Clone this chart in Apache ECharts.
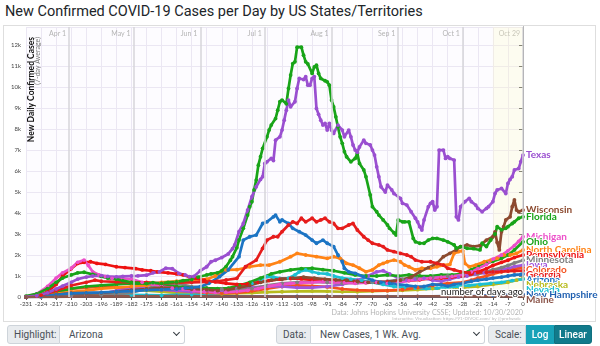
<!DOCTYPE html>
<html>
<head>
<meta charset="utf-8">
<title>New Confirmed COVID-19 Cases per Day by US States/Territories</title>
<script src="https://cdn.jsdelivr.net/npm/echarts/dist/echarts.min.js"></script>
<style>
  html, body { margin: 0; padding: 0; background: #fff; }
  body { width: 600px; height: 346px; position: relative; overflow: hidden; font-family: Roboto, "Noto Sans", sans-serif; }
  #title { position: absolute; left: 5px; top: 3px; font-size: 14.5px; color: #212529; white-space: nowrap; }
  #frame { position: absolute; left: 3px; top: 25px; width: 591px; height: 295px; border: 1px solid #dedede; }
  #chart { position: absolute; left: 0; top: 0; width: 600px; height: 346px; }
  .box { position: absolute; top: 325px; height: 19px; box-sizing: border-box; font-size: 10px; line-height: 17px; color: #495057; white-space: nowrap; }
  .addon { background: #e9ecef; border: 1px solid #ced4da; border-radius: 3px 0 0 3px; padding-left: 6px; }
  .sel { background: #fff; border: 1px solid #ced4da; border-left: none; border-radius: 0 3px 3px 0; padding-left: 9px; }
  .chev { position: absolute; right: 5px; top: 4px; width: 4px; height: 4px; border-right: 1.5px solid #343a40; border-bottom: 1.5px solid #343a40; transform: rotate(45deg); }
  .btn { color: #fff; text-align: center; font-weight: 500; }
</style>
</head>
<body>
<div id="title">New Confirmed COVID-19 Cases per Day by US States/Territories</div>
<div id="frame"></div>
<div id="chart"></div>

<div class="box addon" style="left:7px;width:53px;">Highlight:</div>
<div class="box sel" style="left:60px;width:125px;">Arizona<span class="chev"></span></div>

<div class="box addon" style="left:276px;width:35px;">Data:</div>
<div class="box sel" style="left:311px;width:174px;">New Cases, 1 Wk. Avg.<span class="chev"></span></div>

<div class="box addon" style="left:488px;width:38px;">Scale:</div>
<div class="box btn" style="left:526px;width:28px;background:#17a2b8;border:1px solid #17a2b8;">Log</div>
<div class="box btn" style="left:554px;width:38px;background:#117a8b;border:1px solid #10707f;border-radius:0 3px 3px 0;">Linear</div>

<script>
// New cases per day, 7-day average; x = days before Oct 29, 2020
const texas = [[-231,20],[-226,60],[-221,200],[-217,380],[-214,520],[-210,700],[-207,850],[-203,950],[-200,1000],[-196,1020],[-193,980],[-189,960],[-186,980],[-182,1000],[-179,1010],[-175,1040],[-172,1150],[-169,1200],[-166,1370],[-163,1350],[-160,1130],[-157,1050],[-155,970],[-153,980],[-150,1250],[-147,1440],[-145,1680],[-143,1750],[-140,1880],[-137,2050],[-135,2300],[-134,2480],[-132,3110],[-130,3500],[-128,4140],[-126,4780],[-124,5250],[-122,5600],[-121,5730],[-120,6360],[-119,6440],[-117,6600],[-116,6500],[-115,7470],[-113,7630],[-112,7950],[-111,8420],[-110,8900],[-109,9380],[-108,9060],[-106,9300],[-105,9930],[-104,10410],[-102,10360],[-101,10490],[-100,10090],[-99,10090],[-98,10410],[-97,10500],[-96,8980],[-95,8700],[-94,8420],[-93,8190],[-92,8270],[-91,7950],[-90,8270],[-89,7950],[-88,7790],[-86,8190],[-84,7950],[-83,7630],[-81,7950],[-80,7630],[-79,7240],[-78,7000],[-77,6900],[-76,7150],[-74,7470],[-73,7320],[-71,7240],[-70,7000],[-69,6760],[-68,6200],[-67,5730],[-66,5250],[-64,5000],[-63,5330],[-61,5100],[-60,4930],[-57,4700],[-56,4460],[-54,4380],[-52,4060],[-50,3750],[-49,3580],[-48,3350],[-47,3190],[-46,3670],[-44,4300],[-43,4460],[-42,4540],[-41,4140],[-40,4300],[-39,7000],[-37,7000],[-36,6600],[-35,6680],[-34,6600],[-32,6520],[-31,3820],[-30,3670],[-29,4300],[-27,4540],[-25,4700],[-24,4540],[-22,4380],[-21,4220],[-19,4060],[-17,4220],[-16,4300],[-14,4540],[-13,4930],[-12,5100],[-10,5170],[-8,4930],[-7,5410],[-6,5600],[-5,5730],[-4,6050],[-2,6120],[-1,6450],[0,6760]];

const florida = [[-231,40],[-226,150],[-221,400],[-217,700],[-214,900],[-210,1050],[-207,1150],[-204,1180],[-200,1080],[-196,980],[-193,900],[-189,850],[-186,780],[-182,700],[-179,660],[-175,640],[-172,680],[-168,650],[-165,700],[-161,720],[-158,780],[-154,830],[-151,950],[-147,1050],[-145,1100],[-142,1150],[-140,1250],[-138,1450],[-136,1750],[-135,1920],[-133,2350],[-132,2710],[-130,3270],[-128,3900],[-127,4300],[-126,4540],[-125,5100],[-124,5570],[-123,6280],[-122,6680],[-121,7080],[-119,7630],[-118,7950],[-117,8190],[-115,8500],[-114,8900],[-113,9300],[-112,9380],[-110,9200],[-109,9930],[-108,10570],[-107,11120],[-106,11200],[-105,11900],[-103,11900],[-102,11520],[-101,11200],[-100,11100],[-98,10650],[-97,10960],[-96,11040],[-95,10650],[-94,10410],[-92,10300],[-91,10250],[-90,10090],[-89,9380],[-88,9060],[-87,8580],[-86,8100],[-85,7630],[-84,7320],[-83,6920],[-82,6680],[-80,6440],[-78,6600],[-77,6840],[-76,6360],[-74,6050],[-73,5730],[-71,4860],[-70,4300],[-68,4060],[-67,3900],[-65,3670],[-63,3430],[-62,3270],[-60,3060],[-59,2950],[-58,3670],[-56,3580],[-55,3580],[-53,3580],[-51,2790],[-50,2630],[-48,2560],[-46,2560],[-44,2710],[-42,2790],[-40,2790],[-37,2710],[-35,2630],[-32,2480],[-31,2320],[-29,2400],[-26,2320],[-23,2300],[-20,2240],[-19,2560],[-17,2400],[-15,2710],[-13,3000],[-12,3350],[-10,3200],[-8,3270],[-7,3350],[-5,3500],[-4,3580],[-2,3750],[0,3820]];

const wisconsin = [[-231,2],[-224,40],[-217,120],[-210,180],[-203,170],[-196,200],[-189,250],[-182,330],[-175,380],[-168,450],[-161,420],[-154,380],[-147,350],[-142,300],[-137,350],[-132,450],[-127,550],[-122,700],[-117,800],[-112,850],[-107,900],[-102,950],[-97,900],[-92,850],[-87,820],[-82,800],[-77,750],[-72,700],[-67,680],[-62,720],[-57,800],[-52,950],[-48,1200],[-44,1400],[-40,1600],[-37,1920],[-34,2080],[-31,2240],[-29,2400],[-26,2480],[-23,2400],[-20,2450],[-17,2710],[-14,2870],[-13,3100],[-12,2600],[-11,2240],[-10,3110],[-9,3350],[-8,3670],[-6,3820],[-5,4300],[-4,4620],[-3,4140],[-2,4060],[0,4140]];

const michigan = [[-231,10],[-226,150],[-221,500],[-217,900],[-214,1150],[-210,1370],[-207,1650],[-204,1760],[-202,1500],[-200,1200],[-197,1050],[-194,970],[-191,890],[-186,880],[-182,850],[-177,700],[-172,600],[-168,500],[-163,420],[-158,380],[-153,300],[-148,250],[-143,220],[-138,230],[-133,260],[-128,320],[-123,400],[-118,520],[-113,600],[-108,650],[-103,680],[-98,700],[-93,730],[-88,700],[-83,680],[-78,650],[-73,680],[-68,700],[-63,650],[-58,680],[-53,780],[-48,850],[-43,900],[-38,950],[-33,980],[-28,1050],[-24,1200],[-21,1350],[-17,1550],[-14,1800],[-10,2000],[-7,2200],[-4,2450],[-2,2650],[0,2870]];

const ohio = [[-231,5],[-224,60],[-217,200],[-210,400],[-203,500],[-196,550],[-189,600],[-182,650],[-175,600],[-168,550],[-161,500],[-154,450],[-147,420],[-142,400],[-137,420],[-132,550],[-127,700],[-122,900],[-117,1100],[-113,1200],[-108,1290],[-103,1350],[-98,1370],[-93,1300],[-88,1250],[-83,1150],[-78,1050],[-73,1000],[-68,1000],[-63,1050],[-58,1000],[-53,1050],[-48,1000],[-43,1000],[-38,1050],[-33,1050],[-28,1100],[-24,1300],[-21,1450],[-17,1600],[-14,1700],[-10,1840],[-7,2000],[-4,2240],[0,2630]];

const northCarolina = [[-231,2],[-224,50],[-217,150],[-210,250],[-203,300],[-196,400],[-189,450],[-182,500],[-175,550],[-168,700],[-161,750],[-154,800],[-147,850],[-143,1000],[-138,1290],[-133,1300],[-127,1440],[-122,1520],[-118,1520],[-113,1680],[-108,1920],[-105,2080],[-101,2000],[-96,1920],[-91,1840],[-88,1920],[-85,1840],[-82,1600],[-79,1520],[-76,1370],[-73,1200],[-70,1290],[-67,1520],[-65,1600],[-63,1680],[-60,1760],[-57,1680],[-55,1520],[-53,1440],[-50,1290],[-47,1370],[-43,1370],[-40,1440],[-37,1520],[-34,1550],[-32,2080],[-30,2160],[-28,2200],[-27,1600],[-25,1440],[-22,1520],[-18,1680],[-15,1760],[-12,1840],[-9,2000],[-6,2000],[-3,2080],[0,2240]];

const pennsylvania = [[-231,5],[-226,50],[-221,250],[-217,600],[-214,1000],[-210,1350],[-207,1600],[-204,1650],[-201,1680],[-198,1600],[-194,1550],[-189,1440],[-185,1400],[-180,1350],[-177,1290],[-173,1250],[-170,1200],[-165,1150],[-161,1100],[-158,1050],[-155,960],[-152,890],[-148,800],[-143,720],[-138,650],[-133,600],[-128,620],[-123,700],[-118,780],[-113,850],[-108,880],[-103,860],[-98,820],[-93,780],[-88,750],[-83,720],[-78,700],[-73,680],[-68,700],[-63,720],[-58,750],[-53,780],[-48,820],[-43,880],[-38,900],[-33,950],[-28,1000],[-24,1100],[-21,1200],[-17,1350],[-14,1500],[-10,1650],[-7,1750],[-4,1880],[0,2000]];

const minnesota = [[-231,2],[-224,20],[-217,50],[-210,80],[-203,100],[-196,110],[-189,130],[-182,200],[-175,400],[-168,600],[-161,650],[-154,500],[-147,420],[-140,380],[-133,350],[-126,400],[-119,550],[-112,650],[-105,700],[-98,720],[-91,700],[-84,650],[-77,680],[-70,720],[-63,750],[-56,850],[-49,900],[-42,950],[-35,1000],[-28,1000],[-21,1100],[-17,1200],[-14,1300],[-10,1400],[-7,1500],[-4,1620],[0,1750]];

const iowa = [[-231,0],[-224,10],[-217,30],[-210,60],[-203,100],[-196,150],[-189,300],[-182,400],[-175,450],[-168,350],[-161,300],[-154,250],[-147,300],[-140,320],[-133,400],[-126,450],[-119,520],[-112,500],[-105,450],[-98,450],[-91,500],[-84,600],[-77,800],[-72,1000],[-68,1200],[-65,1250],[-62,1100],[-58,900],[-54,800],[-50,850],[-46,900],[-42,800],[-38,750],[-34,850],[-30,950],[-26,1000],[-22,1100],[-18,1150],[-14,1200],[-10,1300],[-7,1350],[-4,1450],[0,1520]];

const colorado = [[-231,10],[-224,80],[-217,250],[-210,400],[-203,450],[-196,500],[-189,450],[-182,450],[-175,400],[-168,350],[-161,300],[-154,250],[-147,200],[-140,180],[-133,200],[-126,280],[-119,400],[-112,500],[-105,550],[-98,520],[-91,480],[-84,380],[-77,330],[-70,300],[-63,300],[-56,350],[-49,450],[-42,550],[-35,650],[-28,700],[-24,800],[-21,900],[-17,1000],[-14,1100],[-10,1200],[-7,1280],[-4,1340],[0,1400]];

const georgia = [[-231,10],[-224,80],[-217,300],[-210,550],[-203,700],[-199,800],[-196,750],[-189,720],[-182,700],[-175,700],[-168,650],[-161,680],[-154,700],[-147,720],[-142,750],[-138,810],[-133,890],[-129,1440],[-124,1760],[-121,2320],[-119,2710],[-116,2870],[-114,2870],[-112,3110],[-109,3430],[-107,3580],[-105,3500],[-103,3750],[-101,3580],[-98,3750],[-96,3580],[-94,3670],[-92,3750],[-90,3580],[-88,3500],[-86,3270],[-84,3270],[-81,3430],[-79,3500],[-77,3190],[-74,2870],[-72,2710],[-70,2560],[-67,2480],[-65,2400],[-63,2240],[-60,2160],[-57,2080],[-54,2000],[-52,1920],[-50,1760],[-47,1680],[-43,1680],[-40,1600],[-37,1520],[-35,1370],[-32,1290],[-29,1200],[-25,1150],[-21,1170],[-17,1180],[-14,1200],[-10,1210],[-7,1230],[-4,1240],[0,1250]];

const arizona = [[-231,5],[-224,30],[-217,100],[-210,170],[-203,200],[-196,220],[-189,250],[-182,280],[-175,330],[-168,350],[-161,380],[-157,430],[-154,450],[-150,490],[-146,650],[-141,970],[-137,1290],[-132,1920],[-130,2710],[-127,2870],[-124,2950],[-121,3500],[-119,3580],[-116,3820],[-115,3900],[-113,3580],[-112,3670],[-109,3500],[-107,3270],[-104,3110],[-101,2950],[-98,2710],[-96,2560],[-93,2710],[-91,2560],[-88,2400],[-86,2000],[-84,1680],[-83,1370],[-81,1200],[-78,1130],[-74,970],[-70,800],[-66,700],[-62,650],[-58,600],[-54,550],[-50,500],[-46,500],[-42,600],[-38,580],[-35,520],[-32,600],[-28,650],[-24,750],[-21,800],[-17,850],[-14,900],[-10,950],[-7,1000],[-4,1050],[-1,1080],[0,1100]];

const nebraska = [[-231,0],[-224,5],[-217,20],[-210,50],[-203,100],[-196,150],[-189,250],[-182,350],[-175,300],[-168,250],[-161,200],[-154,180],[-147,150],[-140,150],[-133,180],[-126,200],[-119,230],[-112,250],[-105,270],[-98,280],[-91,270],[-84,250],[-77,250],[-70,280],[-63,300],[-56,320],[-49,350],[-42,400],[-35,420],[-28,450],[-21,500],[-14,600],[-7,700],[-3,800],[0,880]];

const nevada = [[-231,0],[-224,20],[-217,80],[-210,120],[-203,150],[-196,130],[-189,110],[-182,100],[-175,90],[-168,80],[-161,100],[-154,120],[-147,150],[-140,200],[-133,350],[-126,650],[-122,810],[-119,970],[-116,950],[-113,890],[-109,900],[-106,1050],[-104,1200],[-101,1290],[-98,1200],[-95,1130],[-91,1100],[-88,1000],[-84,900],[-80,850],[-75,800],[-70,700],[-65,600],[-60,500],[-55,450],[-50,420],[-45,400],[-40,420],[-35,450],[-30,500],[-25,550],[-20,600],[-15,650],[-10,700],[-5,780],[0,850]];

const newHampshire = [[-231,0],[-217,10],[-203,40],[-189,60],[-175,80],[-161,70],[-147,50],[-133,30],[-119,20],[-105,25],[-91,25],[-77,20],[-63,20],[-49,20],[-35,40],[-21,60],[-14,80],[-7,100],[0,120]];

const maine = [[-231,0],[-217,10],[-203,30],[-189,30],[-175,35],[-161,40],[-147,30],[-133,25],[-119,20],[-105,20],[-91,25],[-77,20],[-63,25],[-49,30],[-35,30],[-21,30],[-7,35],[0,35]];

// Month boundaries along the day axis
const monthDays = [-211, -181, -150, -120, -89, -58, -28, 0];
const monthNames = ['Apr 1', 'May 1', 'Jun 1', 'Jul 1', 'Aug 1', 'Sep 1', 'Oct 1', 'Oct 29'];

// Drawing order: later entries sit on top
const states = [
  { name: 'New Hampshire', color: '#1f5fb0', data: newHampshire },
  { name: 'Nebraska', color: '#b8bb1e', data: nebraska },
  { name: 'Nevada', color: '#1cc0d2', data: nevada },
  { name: 'Colorado', color: '#f4511e', data: colorado },
  { name: 'Iowa', color: '#a055dd', data: iowa },
  { name: 'Minnesota', color: '#808080', data: minnesota },
  { name: 'Ohio', color: '#1aa51a', data: ohio },
  { name: 'North Carolina', color: '#ff8316', data: northCarolina },
  { name: 'Pennsylvania', color: '#ee1111', data: pennsylvania },
  { name: 'Michigan', color: '#ec4fc9', data: michigan },
  { name: 'Wisconsin', color: '#8c4a2f', data: wisconsin },
  { name: 'Arizona', color: '#1c74c4', data: arizona },
  { name: 'Georgia', color: '#e61c1c', data: georgia },
  { name: 'Florida', color: '#18a418', data: florida },
  { name: 'Texas', color: '#9a4fd0', data: texas },
  { name: 'Maine', color: '#8c564b', data: maine }
];

const LABEL_GAP = 5;   // minimum vertical spacing between end labels, px
const FONT = 'Lato, "Noto Sans", sans-serif';

const chart = echarts.init(document.getElementById('chart'), null, { renderer: 'canvas' });

const series = states.map(s => ({
  type: 'line',
  name: s.name,
  data: s.data,
  symbol: 'circle',
  symbolSize: 3.8,
  showSymbol: true,
  lineStyle: { width: 2.7, color: s.color },
  itemStyle: { color: s.color },
  animation: false,
  silent: true,
  z: 3
}));

// Month separators and the shaded most-recent two weeks
series.unshift({
  type: 'line',
  data: [],
  silent: true,
  z: 1,
  markLine: {
    silent: true,
    symbol: ['none', 'none'],
    label: { show: false },
    lineStyle: { color: '#d6d6da', width: 1.5, type: 'solid' },
    data: monthDays.map(d => ({ xAxis: d }))
  },
  markArea: {
    silent: true,
    itemStyle: { color: 'rgba(255, 250, 200, 0.28)' },
    data: [[{ xAxis: -14 }, { xAxis: 0 }]]
  }
});

const baseGraphics = [
  {
    type: 'text', x: 31, y: 37, rotation: Math.PI / 2, z: 10,
    style: {
      text: 'New Daily Confirmed Cases', align: 'right', verticalAlign: 'middle',
      fontSize: 8.5, fontWeight: 'bold', fill: '#111', fontFamily: FONT
    }
  },
  {
    type: 'text', x: 37.5, y: 37, rotation: Math.PI / 2, z: 10,
    style: {
      text: '(7-day Average)', align: 'right', verticalAlign: 'middle',
      fontSize: 7, fill: '#777', fontFamily: FONT
    }
  },
  {
    type: 'text', x: 523, y: 292, z: 20,
    style: {
      text: 'number of days ago', align: 'right', verticalAlign: 'middle',
      fontSize: 9.5, fill: '#222', fontFamily: FONT,
      stroke: '#fff', lineWidth: 2.5
    }
  },
  {
    type: 'text', x: 523, y: 313, z: 10,
    style: {
      text: 'Data: Johns Hopkins University CSSE; Updated: 10/30/2020', align: 'right', verticalAlign: 'middle',
      fontSize: 7.2, fill: '#b5b5b5', fontFamily: FONT
    }
  },
  {
    type: 'text', x: 523, y: 318.5, z: 10,
    style: {
      text: 'Interactive Visualization: https://91-DIVOC.com/ by @profwade_', align: 'right', verticalAlign: 'middle',
      fontSize: 4.6, fill: '#bbb', fontFamily: FONT
    }
  }
];

chart.setOption({
  animation: false,
  grid: {
    left: 26, top: 27, width: 497, height: 270,
    show: true, backgroundColor: '#fdfcff', borderWidth: 0
  },
  xAxis: [{
    type: 'value',
    min: -231, max: 0, interval: 7,
    axisLine: { show: true, lineStyle: { color: '#555', width: 1 } },
    axisTick: { show: true, length: 3, lineStyle: { color: '#555' } },
    axisLabel: { fontSize: 6, color: '#444', margin: 4, fontFamily: FONT },
    splitLine: { show: true, lineStyle: { color: '#ebe7f3', width: 1 } }
  }, {
    type: 'value',
    position: 'top',
    min: -231, max: 0,
    axisLine: { show: false },
    axisTick: { show: false },
    splitLine: { show: false },
    axisLabel: {
      show: true,
      inside: true,
      customValues: monthDays,
      formatter: v => monthNames[monthDays.indexOf(v)] || '',
      align: 'right',
      padding: [0, 3, 0, 0],
      margin: 3,
      fontSize: 7,
      color: '#b4b4b4',
      fontFamily: FONT
    }
  }],
  yAxis: {
    type: 'value',
    min: 0, max: 12860, interval: 1000,
    axisLine: { show: true, lineStyle: { color: '#555', width: 1 } },
    axisTick: { show: true, length: 4, lineStyle: { color: '#555' } },
    axisLabel: {
      fontSize: 6, color: '#444', margin: 5, fontFamily: FONT,
      showMaxLabel: false,
      formatter: v => (v % 1000 !== 0 ? '' : (v === 0 ? '0' : (v / 1000) + 'k'))
    },
    splitLine: { show: true, lineStyle: { color: '#ebe7f3', width: 1 } }
  },
  graphic: baseGraphics,
  series: series
});

// End-of-line state names: start at each line's last point, pushed apart
// downward so neighbouring names keep a minimum spacing.
const endLabels = states.map(s => {
  const last = s.data[s.data.length - 1];
  const p = chart.convertToPixel({ xAxisIndex: 0, yAxisIndex: 0 }, last);
  return { name: s.name, color: s.color, x: p[0], y: p[1] };
}).sort((a, b) => a.y - b.y);

for (let i = 1; i < endLabels.length; i++) {
  const prev = endLabels[i - 1];
  if (endLabels[i].y < prev.y + LABEL_GAP) endLabels[i].y = prev.y + LABEL_GAP;
}

chart.setOption({
  graphic: baseGraphics.concat(endLabels.map((l, i) => ({
    type: 'text',
    x: l.x + 3,
    y: l.y,
    z: 30 + i,
    style: {
      text: l.name, align: 'left', verticalAlign: 'middle',
      fontSize: 10, fontWeight: 'bold', fill: l.color, fontFamily: FONT,
      stroke: '#fff', lineWidth: 2
    }
  })))
});
</script>
</body>
</html>
